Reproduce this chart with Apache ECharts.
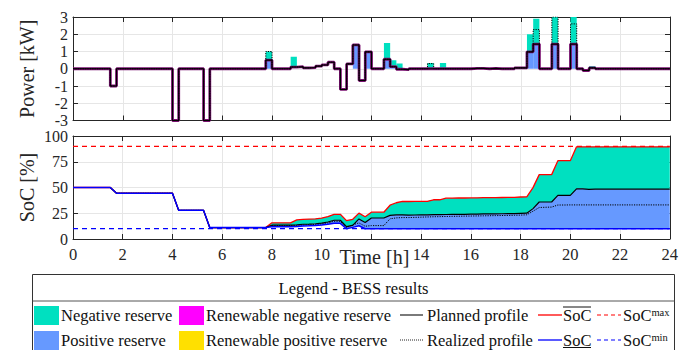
<!DOCTYPE html>
<html>
<head>
<meta charset="utf-8">
<script src="https://cdn.jsdelivr.net/npm/echarts@6/dist/echarts.min.js"></script>
<style>
  html, body { margin: 0; padding: 0; background: #fff; }
  #chart { width: 681px; height: 350px; }
</style>
</head>
<body>
<div id="chart"></div>
<script>
// 15 min resolution, hours
const slotHours = Array.from({ length: 96 }, (_, i) => i * 0.25);
const socHours = Array.from({ length: 97 }, (_, i) => i * 0.25);

// power [kW], one value per 15 min slot
const powerPlanned = [
  0, 0, 0, 0, 0, 0, -1, 0,
  0, 0, 0, 0, 0, 0, 0, 0,
  -3, 0, 0, 0, 0, -3, 0, 0,
  0, 0, 0, 0, 0, 0, 0, 0.5,
  0, 0, 0, 0.1, 0.12, 0.05, 0.07, 0.15,
  0.22, 0.38, 0, -1.2, 0.28, 1.38, -0.68, 0.98,
  0, 0, 0.55, 0.12, -0.03, -0.05, 0, 0,
  0, 0, 0, 0, 0, 0, 0, 0,
  0.02, 0.02, 0, 0.02, 0, 0, 0, 0.05,
  0.05, 0.98, 1.43, 0, 0, 1.43, 0, 0,
  1.43, 0, -0.1, 0.05, 0, 0, 0, 0,
  0, 0, 0, 0, 0, 0, 0, 0
];
const powerRealized = [
  0, 0, 0, 0, 0, 0, -1, 0,
  0, 0, 0, 0, 0, 0, 0, 0,
  -3, 0, 0, 0, 0, -3, 0, 0,
  0, 0, 0, 0, 0, 0, 0, 1.0,
  0, 0, 0, 0.1, 0.12, 0.05, 0.07, 0.15,
  0.22, 0.38, 0, -1.2, 0.28, 1.38, -0.68, 0.98,
  0, 0, 0.55, 0.12, -0.03, -0.05, 0, 0,
  0, 0.3, 0, 0, 0, 0, 0, 0,
  0.02, 0.02, 0, 0.02, 0, 0, 0, 0.05,
  0.05, 0.98, 2.27, 0, 0, 3.0, 0, 0,
  2.6, 0, -0.1, 0.05, 0, 0, 0, 0,
  0, 0, 0, 0, 0, 0, 0, 0
];
// reserve bars: slot index and top of bar [kW]
const negSlots = [31, 35, 50, 51, 52, 57, 59, 71, 73, 74, 77, 80, 83];
const negTop = [1.0, 0.7, 1.5, 0.5, 0.3, 0.33, 0.33, 0.1, 2.0, 2.9, 3.3, 3.3, 0.15];
const posSlots = [31, 45, 47, 50, 51, 73, 74, 77, 80];
const posTop = [0.5, 1.38, 0.98, 0.55, 0.12, 0.98, 1.43, 1.43, 1.43];

// SoC [%], one value per quarter hour 0..24
const socPlanned = [
  50, 50, 50, 50, 50, 50, 50, 44.4,
  44.4, 44.4, 44.4, 44.4, 44.4, 44.4, 44.4, 44.4,
  44.4, 27.8, 27.8, 27.8, 27.8, 27.8, 11.1, 11.1,
  11.1, 11.1, 11.1, 11.1, 11.1, 11.1, 11.1, 11.1,
  13.4, 13.4, 13.4, 13.4, 13.8, 14.3, 14.5, 14.8,
  15.5, 16.5, 18.2, 18.2, 12.0, 13.3, 19.5, 16.0,
  20.4, 20.4, 20.4, 22.9, 23.5, 23.4, 23.2, 23.3,
  23.4, 23.5, 23.6, 23.7, 23.8, 23.9, 24.0, 24.0,
  24.1, 24.2, 24.3, 24.3, 24.4, 24.5, 24.6, 24.7,
  24.9, 25.1, 29.5, 35.9, 35.9, 35.9, 42.3, 42.3,
  42.3, 48.7, 48.7, 48.2, 48.4, 48.4, 48.4, 48.4,
  48.4, 48.4, 48.4, 48.4, 48.4, 48.4, 48.4, 48.4,
  48.4
];
const socUpper = [
  50, 50, 50, 50, 50, 50, 50, 44.4,
  44.4, 44.4, 44.4, 44.4, 44.4, 44.4, 44.4, 44.4,
  44.4, 27.8, 27.8, 27.8, 27.8, 27.8, 11.1, 11.1,
  11.1, 11.1, 11.1, 11.1, 11.1, 11.1, 11.1, 11.1,
  15.7, 15.7, 15.7, 15.7, 18.5, 19.0, 19.3, 19.6,
  20.3, 21.8, 24.0, 24.0, 17.8, 19.1, 25.1, 21.6,
  26.0, 26.0, 26.0, 32.8, 35.2, 36.5, 36.4, 36.5,
  36.6, 36.6, 38.1, 38.1, 39.6, 39.7, 39.8, 39.8,
  39.9, 40.0, 40.1, 40.1, 40.2, 40.3, 40.4, 40.5,
  40.8, 41.0, 49.9, 62.5, 62.5, 62.5, 76.0, 76.0,
  76.0, 89.5, 89.5, 89.5, 89.5, 89.5, 89.5, 89.5,
  89.5, 89.5, 89.5, 89.5, 89.5, 89.5, 89.5, 89.5,
  89.5
];
const socLower = [
  50, 50, 50, 50, 50, 50, 50, 44.4,
  44.4, 44.4, 44.4, 44.4, 44.4, 44.4, 44.4, 44.4,
  44.4, 27.8, 27.8, 27.8, 27.8, 27.8, 11.1, 11.1,
  11.1, 11.1, 11.1, 11.1, 11.1, 11.1, 11.1, 11.1,
  11.9, 11.9, 11.9, 11.9, 12.2, 12.6, 12.8, 13.1,
  13.6, 14.3, 15.2, 15.2, 10, 11.3, 12.9, 10,
  10, 10, 10, 10, 10, 10, 10, 10,
  10, 10, 10, 10, 10, 10, 10, 10,
  10, 10, 10, 10, 10, 10, 10, 10,
  10, 10, 10, 10, 10, 10, 10, 10,
  10, 10, 10, 10, 10, 10, 10, 10,
  10, 10, 10, 10, 10, 10, 10, 10,
  10
];
const socRealized = [
  50, 50, 50, 50, 50, 50, 50, 44.4,
  44.4, 44.4, 44.4, 44.4, 44.4, 44.4, 44.4, 44.4,
  44.4, 27.8, 27.8, 27.8, 27.8, 27.8, 11.1, 11.1,
  11.1, 11.1, 11.1, 11.1, 11.1, 11.1, 11.1, 11.1,
  13.0, 13.0, 13.0, 13.0, 13.3, 13.6, 13.8, 14.1,
  14.7, 15.6, 17.2, 17.2, 11.2, 13.8, 15.6, 12.4,
  13.0, 13.0, 13.0, 19.6, 20.5, 20.8, 20.8, 21.0,
  21.2, 21.4, 21.6, 21.7, 21.9, 22.0, 22.1, 22.2,
  22.3, 22.4, 22.5, 22.6, 22.7, 22.8, 22.9, 23.0,
  23.2, 23.5, 27.0, 30.6, 30.8, 31.0, 33.0, 33.0,
  33.1, 33.1, 33.1, 33.1, 33.1, 33.1, 33.1, 33.1,
  33.1, 33.1, 33.1, 33.1, 33.1, 33.1, 33.1, 33.1,
  33.1
];
const socMax = 90;
const socMin = 10;

const FONT = '"Liberation Serif", "DejaVu Serif", serif';
const TEAL = '#00E0C0';
const BLUE = '#6699FF';
const AXIS = '#262626';

const chart = echarts.init(document.getElementById('chart'), null, { renderer: 'svg' });

function stepData(values) {
  const d = values.map((v, i) => [slotHours[i], v]);
  d.push([24, values[values.length - 1]]);
  return d;
}

function renderBar(params, api) {
  const p0 = api.coord([api.value(0), api.value(3)]);
  const p1 = api.coord([api.value(1), api.value(2)]);
  const cs = params.coordSys;
  const rect = echarts.graphic.clipRectByRect(
    { x: p0[0], y: Math.min(p0[1], p1[1]), width: p1[0] - p0[0], height: Math.abs(p1[1] - p0[1]) },
    { x: cs.x, y: cs.y, width: cs.width, height: cs.height }
  );
  return rect && { type: 'rect', shape: rect, style: { fill: api.visual('color') } };
}

function band(lower, upper) {
  return function (params, api) {
    if (params.dataIndex !== 0) return null;
    const pts = [];
    for (let i = 0; i < socHours.length; i++) pts.push(api.coord([socHours[i], upper[i]]));
    for (let i = socHours.length - 1; i >= 0; i--) pts.push(api.coord([socHours[i], lower[i]]));
    return { type: 'polygon', shape: { points: pts }, style: { fill: api.visual('color') } };
  };
}

function xAxisDef(grid, position, labels) {
  return {
    type: 'value', gridIndex: grid, position: position, min: 0, max: 24, interval: 2,
    axisLine: { show: true, onZero: false, lineStyle: { color: AXIS, width: 1 } },
    axisTick: { show: true, inside: true, length: 5, lineStyle: { color: AXIS } },
    splitLine: { show: position === 'bottom', lineStyle: { color: '#E6E6E6', width: 1 } },
    axisLabel: {
      show: labels, margin: 7, fontFamily: FONT, fontSize: 16.5, color: AXIS,
      formatter: v => (v === 12 ? '' : String(v))
    }
  };
}

function yAxisDef(grid, position, min, max, interval, name) {
  return {
    type: 'value', gridIndex: grid, position: position, min: min, max: max, interval: interval,
    name: name || '', nameLocation: 'middle', nameGap: 36, nameMoveOverlap: false,
    nameTextStyle: { fontFamily: FONT, fontSize: 20, color: AXIS },
    axisLine: { show: true, onZero: false, lineStyle: { color: AXIS, width: 1 } },
    axisTick: { show: true, inside: true, length: 5, lineStyle: { color: AXIS } },
    splitLine: { show: position === 'left', lineStyle: { color: '#E6E6E6', width: 1 } },
    axisLabel: {
      show: position === 'left', margin: 5, fontFamily: FONT, fontSize: 16, lineHeight: 13,
      color: AXIS
    }
  };
}

const xBottom = xAxisDef(1, 'bottom', true);
xBottom.name = 'Time [h]';
xBottom.nameLocation = 'middle';
xBottom.nameGap = 8;
xBottom.nameMoveOverlap = false;
xBottom.nameTextStyle = {
  fontFamily: FONT, fontSize: 20, color: AXIS,
  backgroundColor: '#fff', padding: [0, 2, 0, 8]
};

const lineBase = { type: 'line', symbol: 'none', silent: true, animation: false };

const LEG_FONT = '16.5px "Liberation Serif", "DejaVu Serif", serif';
const T = (text, x, y, extra) => ({
  type: 'text', z: 100,
  style: Object.assign({ text: text, x: x, y: y, font: LEG_FONT, fill: '#111', verticalAlign: 'middle' }, extra || {})
});
const L = (x1, y1, x2, y2, stroke, dash, w) => ({
  type: 'line', z: 100,
  shape: { x1: x1, y1: y1, x2: x2, y2: y2 },
  style: { stroke: stroke, lineWidth: w || 1.2, lineDash: dash || null }
});
const R = (x, y, w, h, fill) => ({
  type: 'rect', z: 100, shape: { x: x, y: y, width: w, height: h }, style: { fill: fill }
});
const supRich = { s: { font: '10.5px "Liberation Serif", serif', fill: '#111', verticalAlign: 'top', lineHeight: 18 } };

chart.setOption({
  animation: false,
  grid: [
    { left: 73, right: 11, top: 17, height: 103.5 },
    { left: 73, right: 11, top: 136, height: 103 }
  ],
  xAxis: [
    xAxisDef(0, 'bottom', false),
    xAxisDef(0, 'top', false),
    xBottom,
    xAxisDef(1, 'top', false)
  ],
  yAxis: [
    yAxisDef(0, 'left', -3, 3, 1, 'Power [kW]'),
    yAxisDef(0, 'right', -3, 3, 1),
    yAxisDef(1, 'left', 0, 100, 25, 'SoC [%]'),
    yAxisDef(1, 'right', 0, 100, 25)
  ],
  series: [
    {
      name: 'Negative reserve', type: 'custom', xAxisIndex: 0, yAxisIndex: 0, silent: true,
      itemStyle: { color: TEAL }, renderItem: renderBar, encode: { x: [0, 1], y: [2, 3] },
      data: negSlots.map((s, k) => [slotHours[s], slotHours[s] + 0.25, powerPlanned[s], negTop[k]])
    },
    {
      name: 'Positive reserve', type: 'custom', xAxisIndex: 0, yAxisIndex: 0, silent: true,
      itemStyle: { color: BLUE }, renderItem: renderBar, encode: { x: [0, 1], y: [2, 3] },
      data: posSlots.map((s, k) => [slotHours[s], slotHours[s] + 0.25, 0, posTop[k]])
    },
    Object.assign({}, lineBase, {
      name: 'Renewable negative reserve', xAxisIndex: 0, yAxisIndex: 0, step: 'end',
      lineStyle: { color: '#7A1070', width: 2.8 }, data: stepData(powerPlanned)
    }),
    Object.assign({}, lineBase, {
      name: 'Planned profile', xAxisIndex: 0, yAxisIndex: 0, step: 'end',
      lineStyle: { color: '#000', width: 1.1 }, data: stepData(powerPlanned)
    }),
    Object.assign({}, lineBase, {
      name: 'Realized profile', xAxisIndex: 0, yAxisIndex: 0, step: 'end',
      lineStyle: { color: '#000', width: 1, type: [1.2, 1.2] }, data: stepData(powerRealized)
    }),

    {
      name: 'Negative reserve SoC', type: 'custom', xAxisIndex: 2, yAxisIndex: 2, silent: true,
      itemStyle: { color: TEAL }, renderItem: band(socPlanned, socUpper), encode: { x: 0, y: [1, 2] },
      data: socHours.map((t, i) => [t, socPlanned[i], socUpper[i]])
    },
    {
      name: 'Positive reserve SoC', type: 'custom', xAxisIndex: 2, yAxisIndex: 2, silent: true,
      itemStyle: { color: BLUE }, renderItem: band(socLower, socPlanned), encode: { x: 0, y: [1, 2] },
      data: socHours.map((t, i) => [t, socLower[i], socPlanned[i]])
    },
    Object.assign({}, lineBase, {
      name: 'SoC max', xAxisIndex: 2, yAxisIndex: 2,
      lineStyle: { color: '#FF0000', width: 1.2, type: [5, 4] }, data: [[0, socMax], [24, socMax]]
    }),
    Object.assign({}, lineBase, {
      name: 'SoC upper', xAxisIndex: 2, yAxisIndex: 2,
      lineStyle: { color: '#FF0000', width: 1.3 }, data: socHours.map((t, i) => [t, socUpper[i]])
    }),
    Object.assign({}, lineBase, {
      name: 'Planned SoC', xAxisIndex: 2, yAxisIndex: 2,
      lineStyle: { color: '#000', width: 1.2 }, data: socHours.map((t, i) => [t, socPlanned[i]])
    }),
    Object.assign({}, lineBase, {
      name: 'Realized SoC', xAxisIndex: 2, yAxisIndex: 2,
      lineStyle: { color: '#000', width: 1, type: [1.2, 1.2] }, data: socHours.map((t, i) => [t, socRealized[i]])
    }),
    Object.assign({}, lineBase, {
      name: 'SoC lower', xAxisIndex: 2, yAxisIndex: 2,
      lineStyle: { color: '#0000FF', width: 1.5 }, data: socHours.map((t, i) => [t, socLower[i]])
    }),
    Object.assign({}, lineBase, {
      name: 'SoC min', xAxisIndex: 2, yAxisIndex: 2,
      lineStyle: { color: '#0000FF', width: 1.2, type: [5, 4] }, data: [[0, socMin], [24, socMin]]
    })
  ],
  graphic: [
    { type: 'rect', z: 100, shape: { x: 32.5, y: 274.5, width: 642, height: 90 },
      style: { fill: 'none', stroke: '#333', lineWidth: 1 } },
    L(32.5, 301, 674.5, 301, '#555', null, 1),
    T('Legend - BESS results', 353.5, 288, { align: 'center' }),

    R(34, 306, 25, 19, TEAL), T('Negative reserve', 61, 315.5),
    R(179, 306, 25, 19, '#FF00FF'), T('Renewable negative reserve', 206, 315.5),
    R(34, 331, 25, 19, BLUE), T('Positive reserve', 61, 340.5),
    R(179, 331, 25, 19, '#FFE000'), T('Renewable positive reserve', 206, 340.5),

    L(400, 315, 423, 315, '#222', null, 1.2), T('Planned profile', 427, 315.5),
    L(400, 340, 423, 340, '#222', [1, 1], 1), T('Realized profile', 427, 340.5),

    L(538, 315, 562, 315, '#FF0000', null, 1.3), T('SoC', 563, 315.5),
    L(563, 307, 591, 307, '#111', null, 1),
    L(538, 340, 562, 340, '#0000FF', null, 1.3), T('SoC', 563, 340.5),
    L(563, 347.5, 591, 347.5, '#111', null, 1),

    L(597, 315, 621, 315, '#FF0000', [4, 3], 1.2),
    T('SoC{s|max}', 623, 315.5, { rich: supRich }),
    L(597, 340, 621, 340, '#0000FF', [4, 3], 1.2),
    T('SoC{s|min}', 623, 340.5, { rich: supRich })
  ]
});
</script>
</body>
</html>
